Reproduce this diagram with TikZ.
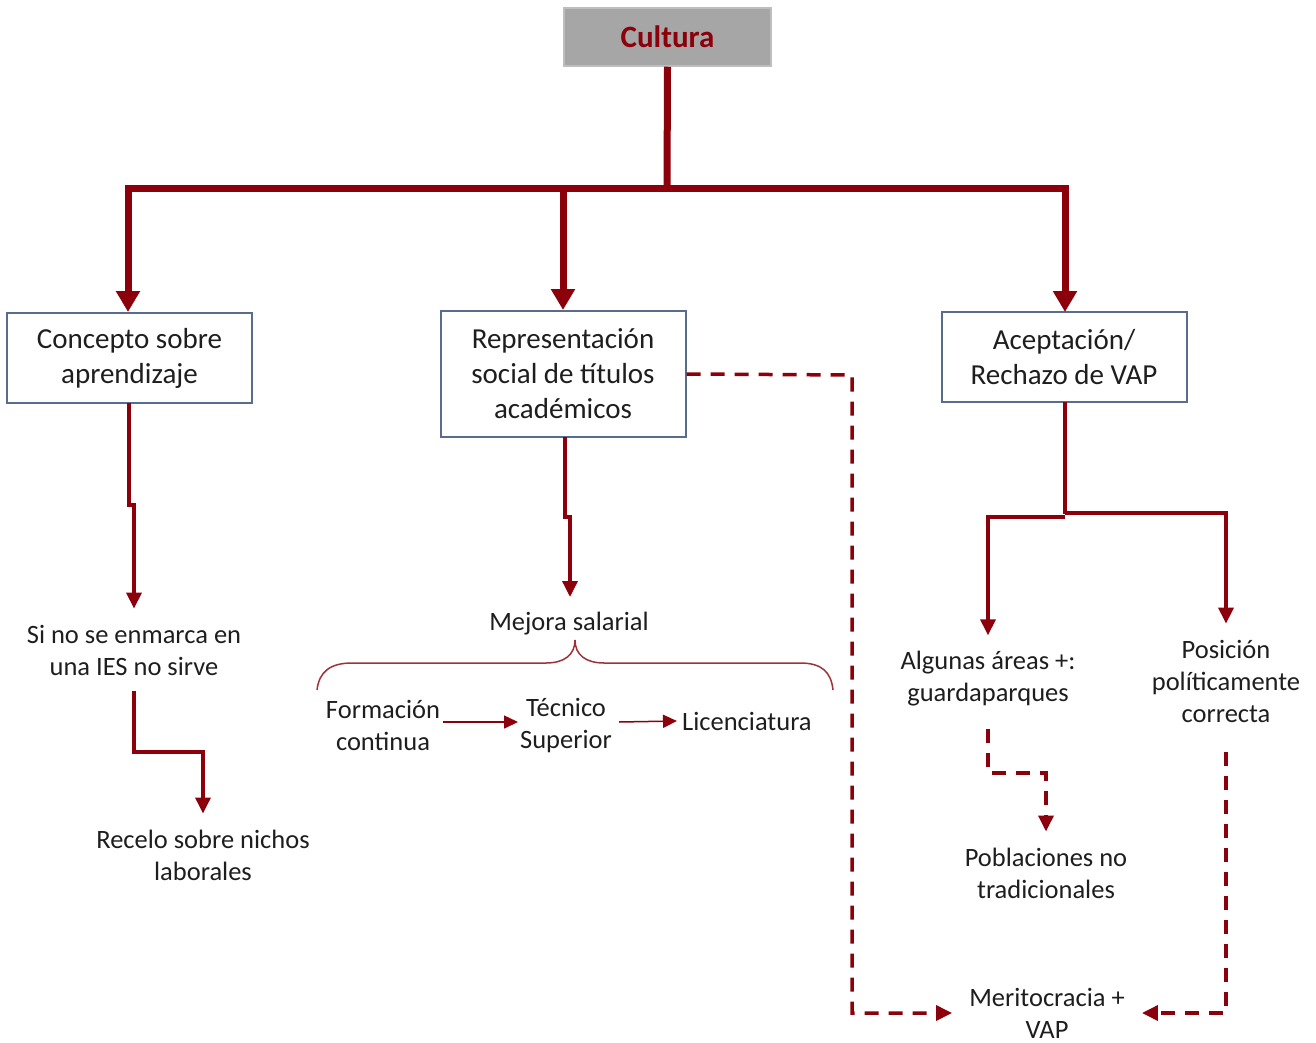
\documentclass[tikz,border=0pt]{standalone}
\usepackage{fontspec}
\setmainfont{Carlito}
\usetikzlibrary{arrows.meta,calc}
\definecolor{wine}{RGB}{139,0,10}
\definecolor{braceclr}{RGB}{160,50,55}
\definecolor{boxline}{RGB}{88,108,140}
\definecolor{topfill}{RGB}{166,166,166}
\definecolor{topline}{RGB}{190,190,190}
\definecolor{ink}{RGB}{30,30,30}
\begin{document}
\begin{tikzpicture}[x=1pt,y=-1pt,
  topbox/.style={draw=topline,line width=1.5pt,fill=topfill,minimum width=207pt,minimum height=58pt,
    text=wine,font=\fontsize{31}{36}\selectfont\bfseries},
  mainbox/.style={draw=boxline,line width=2pt,fill=white,minimum width=245pt,align=center,
    text=ink,font=\fontsize{29}{35}\selectfont},
  label/.style={align=center,text=ink,inner xsep=4pt,inner ysep=16pt,font=\fontsize{26.5}{32}\selectfont},
  trunk/.style={draw=wine,line width=7pt,line join=miter},
  branch/.style={draw=wine,line width=3.5pt,line join=miter},
  dashlink/.style={draw=wine,line width=3.5pt,dash pattern=on 14pt off 10pt},
  thin/.style={draw=wine,line width=1.5pt},
  bigtip/.style={-{Triangle[length=21pt,width=23pt]}},
  midtip/.style={-{Triangle[length=16pt,width=15pt]}},
  smalltip/.style={-{Triangle[length=14pt,width=13pt]}}
]
\useasboundingbox (0,0) rectangle (1316,1043);

% ---- boxes ----
\node[topbox] (cultura) at (667.5,37) {Cultura};
\node[mainbox,minimum height=90pt] (concepto) at (129.5,358) {Concepto sobre\\aprendizaje};
\node[mainbox,minimum height=126pt] (repr) at (563,374) {Representación\\social de títulos\\académicos};
\node[mainbox,minimum height=90pt] (acept) at (1064,357) {Aceptación/\\Rechazo de VAP};

% ---- plain labels ----
\node[label] (sino) at (134,650) {Si no se enmarca en\\una IES no sirve};
\node[label] (recelo) at (203,855) {Recelo sobre nichos\\laborales};
\node[label] (mejora) at (569,624) {Mejora salarial};
\node[label] (formacion) at (383,725) {Formación\\continua};
\node[label] (tecnico) at (566,726) {Técnico\\Superior};
\node[label,anchor=west,inner xsep=5pt] (lic) at (677,721) {Licenciatura};
\node[label] (algunas) at (988,679) {Algunas áreas +:\\guardaparques};
\node[label] (posicion) at (1226,681) {Posición\\políticamente\\correcta};
\node[label] (pobl) at (1046,873) {Poblaciones no\\tradicionales};
\node[label,inner xsep=17pt,inner ysep=0pt] (merit) at (1047,1013) {Meritocracia +\\VAP};

% ---- trunk from the top box ----
\coordinate (hub) at (667,189);
\draw[trunk] (cultura.south) -- (hub);
\draw[trunk,bigtip] (hub) -- (128,189) -- (128,312);
\draw[trunk,bigtip] (hub) -- (563,189) -- (repr.north);
\draw[trunk,bigtip] (hub) -- (1065,189) -- (1065,312);

% ---- left column ----
\draw[branch,midtip] (129,403) -- (129,505) -- (134,505) -- (sino.north);
\draw[branch,midtip] (sino.south) -- (134,752) -- (203,752) -- (recelo.north);

% ---- middle column ----
\draw[branch,midtip] (565,437) -- (565,517) -- (570,517) -- (570,597);
\draw[thin,draw=braceclr] (317,690) .. controls (319,672) and (330,663) .. (352,663)
  -- (546,663) .. controls (564,663) and (575,655) .. (575,640)
  .. controls (575,655) and (586,663) .. (604,663)
  -- (800,663) .. controls (822,663) and (831,672) .. (833,690);
\draw[thin,smalltip] (443,722) -- (518,722);
\draw[thin,smalltip] (619,722) -- (lic.west);

% ---- dashed link to meritocracy ----
\draw[dashlink,midtip] (repr.east) -- (852,375) |- (merit.west);

% ---- right column ----
\draw[branch] (1065,402) -- (1065,514);
\draw[branch,midtip] (1065,517) -- (988,517) -- (algunas.north);
\draw[branch,midtip] (1065,513) -- (1226,513) -- (posicion.north);
\draw[dashlink,midtip,shorten <=6pt] (algunas.south) -- (988,773) -- (1046,773) -- (pobl.north);
\draw[dashlink,midtip,shorten <=14pt] (posicion.south) |- (merit.east);
\end{tikzpicture}
\end{document}
